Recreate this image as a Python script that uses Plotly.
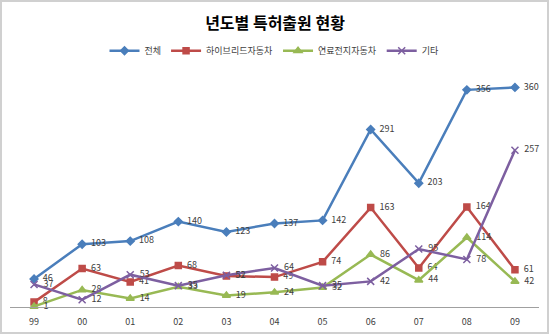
import plotly.graph_objects as go

years = ["99", "00", "01", "02", "03", "04", "05", "06", "07", "08", "09"]
total = [46, 103, 108, 140, 123, 137, 142, 291, 203, 356, 360]
hybrid = [8, 63, 41, 68, 51, 49, 74, 163, 64, 164, 61]
fuelcell = [1, 28, 14, 33, 19, 24, 32, 86, 44, 114, 42]
other = [37, 12, 53, 35, 52, 64, 35, 42, 95, 78, 257]

series = [
    ("전체", total, "#4A7EBB", "diamond", 6),
    ("하이브리드자동차", hybrid, "#BE4B48", "square", 6),
    ("연료전지자동차", fuelcell, "#98B954", "triangle-up", 7),
    ("기타", other, "#7D5FA0", "x-thin", 7),
]

FONT = "Noto Sans CJK KR, Noto Sans, sans-serif"
xs = list(range(len(years)))
fig = go.Figure()
for name, vals, color, sym, size in series:
    fig.add_trace(go.Scatter(
        x=xs, y=vals, name=name, mode="lines+markers+text",
        line=dict(color=color, width=2.5),
        marker=dict(symbol=sym, size=size, color=color, line=dict(color=color, width=1.5)),
        text=["  " + str(v) for v in vals], textposition="middle right",
        textfont=dict(size=9, color="#404040", family=FONT),
        cliponaxis=False,
    ))

fig.update_layout(
    width=550, height=335,
    margin=dict(l=10, r=11, t=63, b=28),
    paper_bgcolor="white", plot_bgcolor="white",
    font=dict(family=FONT, color="#404040"),
    title=dict(text="<b>년도별 특허출원 현황</b>", x=0.5, xanchor="center",
               y=1 - 23 / 335, yanchor="middle",
               font=dict(size=16, color="black", family=FONT)),
    legend=dict(orientation="h", x=0.5, xanchor="center", y=1.05, yanchor="middle",
                font=dict(size=9, color="#404040", family=FONT),
                itemwidth=30, tracegroupgap=0, bgcolor="rgba(0,0,0,0)"),
    showlegend=True,
    xaxis=dict(tickvals=xs, ticktext=years, range=[-0.5, len(years) - 0.5],
               showgrid=False, zeroline=False, showline=True, linecolor="#A0A0A0",
               linewidth=1, ticks="", ticklabelstandoff=6, automargin=False,
               tickfont=dict(size=9, color="#404040")),
    yaxis=dict(range=[0, 400], showgrid=False, zeroline=False, showline=False,
               showticklabels=False, ticks="", automargin=False),
    shapes=[dict(type="rect", xref="paper", yref="paper",
                 x0=(1 - 10) / 529, x1=(548 - 10) / 529,
                 y0=(307 - 333) / 244, y1=(307 - 1) / 244,
                 line=dict(color="#D0D0D0", width=2), layer="below")],
)

fig.write_html("out.html")
